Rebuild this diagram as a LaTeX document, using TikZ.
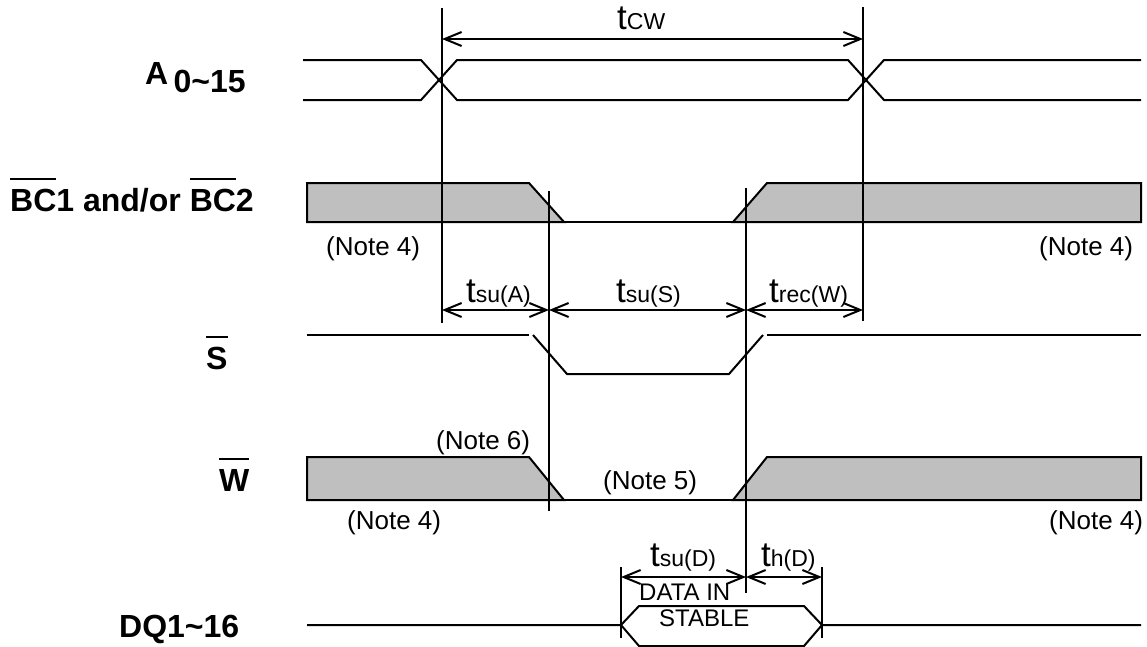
\documentclass[tikz,border=0pt]{standalone}
\usepackage{fontspec}
\setmainfont{Liberation Sans}
\usetikzlibrary{arrows.meta}

\definecolor{sinalcinza}{HTML}{BFBFBF}
\newcommand{\barra}[1]{\setbox0\hbox{#1}\rlap{\rule[0.98em]{\wd0}{2pt}}\box0\relax}
\newcommand{\tempo}[2]{{\fontsize{35}{35}\selectfont t}{\fontsize{#2}{#2}\selectfont #1}}

\tikzset{
  sinal/.style={line width=2pt, line join=miter},
  guia/.style={line width=2pt},
  cota/.style={line width=2pt, {Straight Barb[length=17pt,width=14pt]}-{Straight Barb[length=17pt,width=14pt]}},
  nomesinal/.style={font=\bfseries\fontsize{32}{32}\selectfont, anchor=base west, inner sep=0pt},
  nota/.style={font=\fontsize{26}{26}\selectfont, anchor=base west, inner sep=0pt},
  rotulo/.style={anchor=base west, inner sep=0pt},
}

\begin{document}
\begin{tikzpicture}[x=1pt,y=-1pt]

\useasboundingbox (0,0) rectangle (1147,646);

% Sinal de endereco
\draw[sinal] (303,60) -- (421,60) -- (457,100) -- (848,100) -- (884,60) -- (1141,60);
\draw[sinal] (303,100) -- (421,100) -- (457,60) -- (848,60) -- (884,100) -- (1141,100);

% Sinal BC
\draw[sinal, fill=sinalcinza] (307,183) -- (529,183) -- (564,222) -- (307,222) -- cycle;
\draw[sinal, fill=sinalcinza] (733,222) -- (767,183) -- (1141,183) -- (1141,222) -- cycle;
\draw[sinal] (564,222) -- (733,222);

% Sinal S
\draw[sinal] (307,335) -- (529,335);
\draw[sinal] (533,335) -- (567,374) -- (729,374) -- (763,335);
\draw[sinal] (767,335) -- (1141,335);

% Sinal W
\draw[sinal, fill=sinalcinza] (307,457) -- (529,457) -- (564,500) -- (307,500) -- cycle;
\draw[sinal, fill=sinalcinza] (733,500) -- (767,457) -- (1141,457) -- (1141,500) -- cycle;
\draw[sinal] (564,500) -- (733,500);

% Sinal DQ
\draw[sinal] (307,625) -- (621,625) -- (639,606) -- (804,606) -- (822,625) -- (1141,625);
\draw[sinal] (621,625) -- (639,646) -- (804,646) -- (822,625);

% Linhas guia
\coordinate (g1) at (442,8);
\coordinate (g1b) at (442,323);
\coordinate (g2) at (863,7);
\coordinate (g2b) at (863,321);
\coordinate (g3) at (549,191);
\coordinate (g3b) at (549,511);
\coordinate (g4) at (746,188);
\coordinate (g4b) at (746,593);
\coordinate (g5) at (621,567);
\coordinate (g5b) at (621,638);
\coordinate (g6) at (822,567);
\coordinate (g6b) at (822,638);
\foreach \g in {g1,g2,g3,g4,g5,g6}
  \draw[guia] (\g) -- (\g b);

% Cotas
\coordinate (c1a) at (442,39);
\coordinate (c1b) at (863,39);
\coordinate (c2a) at (442,310);
\coordinate (c2b) at (549,310);
\coordinate (c3a) at (863,310);
\coordinate (c3b) at (746,310);
\coordinate (c4a) at (621,577);
\coordinate (c4b) at (746,577);
\coordinate (c5a) at (822,577);
\draw[cota] (c1a) -- (c1b);
\draw[cota] (c2a) -- (c2b);
\draw[cota] (c2b) -- (c3b);
\draw[cota] (c3b) -- (c3a);
\draw[cota] (c4a) -- (c4b);
\draw[cota] (c4b) -- (c5a);

% Tempos
\node[rotulo] (tcw) at (617,29) {\tempo{CW}{23}};
\node[rotulo] (tsua) at (466,302) {\tempo{su(A)}{23}};
\node[rotulo] (tsus) at (616,302) {\tempo{su(S)}{23}};
\node[rotulo] (trecw) at (769,302) {\tempo{rec(W)}{23}};
\node[rotulo] (tsud) at (650,566) {\tempo{su(D)}{23}};
\node[rotulo] (thd) at (761,566) {\tempo{h(D)}{23}};

% Nomes dos sinais
\node[nomesinal] (nomeA) at (145,92) {\raisebox{8pt}{A}\,0\textasciitilde15};
\node[nomesinal] (nomeBC) at (10,211) {\barra{BC}1 and/or \barra{BC}2};
\node[nomesinal] (nomeS) at (206,369) {\barra{S}};
\node[nomesinal] (nomeW) at (219,491) {\barra{W}};
\node[nomesinal] (nomeDQ) at (119,637) {DQ1\textasciitilde16};

% Notas
\node[nota] (nota1) at (326,255) {(Note 4)};
\node[nota] (nota2) at (1039,255) {(Note 4)};
\node[nota] (nota3) at (436,449) {(Note 6)};
\node[nota] (nota4) at (603,489) {(Note 5)};
\node[nota] (nota5) at (347,529) {(Note 4)};
\node[nota] (nota6) at (1049,529) {(Note 4)};
\node[nota, font=\fontsize{24}{24}\selectfont] (dadoa) at (639,600) {DATA IN};
\node[nota, font=\fontsize{24}{24}\selectfont] (dadob) at (659,626) {STABLE};

\end{tikzpicture}
\end{document}
